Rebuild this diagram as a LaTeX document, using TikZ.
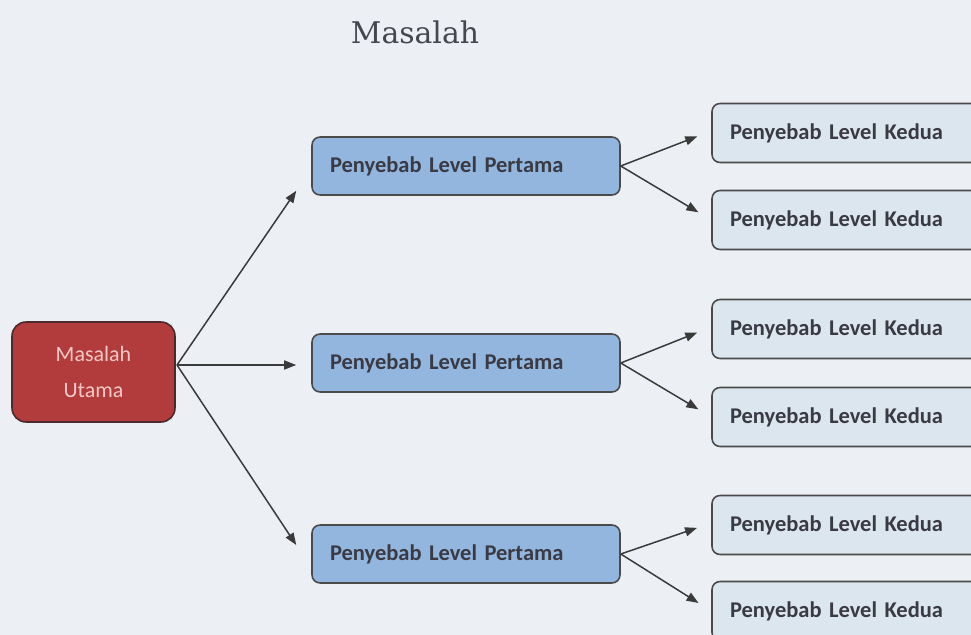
\documentclass[tikz,border=0pt]{standalone}
\usepackage{fontspec}
\setmainfont{Carlito}
\newfontfamily\titlefont{DejaVu Serif}
\usetikzlibrary{arrows.meta,calc}

\definecolor{pagebg}{HTML}{ECEFF4}
\definecolor{rootfill}{HTML}{B23B3B}
\definecolor{rootline}{HTML}{4A2A2A}
\definecolor{roottext}{HTML}{F5C8C8}
\definecolor{firstfill}{HTML}{92B6DE}
\definecolor{secondfill}{HTML}{DCE6EF}
\definecolor{boxline}{HTML}{4A4A4A}
\definecolor{boxtext}{HTML}{3A3A44}
\definecolor{arrowcol}{HTML}{3A3A3A}
\definecolor{titlecol}{HTML}{45474E}

\tikzset{
  rootbox/.style={draw=rootline, line width=0.9pt, fill=rootfill, rounded corners=0.28cm,
    minimum width=3.26cm, minimum height=2cm, align=center, text=roottext,
    font=\fontsize{12.5}{21}\selectfont},
  firstbox/.style={draw=boxline, line width=0.9pt, fill=firstfill, rounded corners=0.16cm,
    minimum width=6.16cm, minimum height=1.16cm, inner xsep=0.36cm,
    text width=5.44cm, align=left, text=boxtext, font=\fontsize{12.8}{14}\selectfont\bfseries},
  secondbox/.style={draw=boxline, line width=0.9pt, fill=secondfill, rounded corners=0.16cm,
    minimum width=6cm, minimum height=1.18cm, inner xsep=0.36cm,
    text width=5.28cm, align=left, text=boxtext, font=\fontsize{12.8}{14}\selectfont\bfseries},
  link/.style={draw=arrowcol, line width=0.85pt, -{Triangle[length=0.24cm,width=0.18cm]}},
}

\begin{document}
\begin{tikzpicture}[x=0.02cm, y=-0.02cm]
  % canvas
  \fill[pagebg] (0,0) rectangle (971,635);
  \useasboundingbox (0,0) rectangle (971,635);
  \clip (0,0) rectangle (971,635);

  % title
  \node[text=titlecol, font=\titlefont\fontsize{17}{20}\selectfont] (title) at (415,32) {Masalah};

  % root
  \node[rootbox] (root) at (93.5,372) {Masalah\\Utama};
  \coordinate (rootout) at (177,365);

  % first level causes
  \node[firstbox] (pa) at (466,166) {Penyebab Level Pertama};
  \node[firstbox] (pb) at (466,363) {Penyebab Level Pertama};
  \node[firstbox] (pc) at (466,554) {Penyebab Level Pertama};

  % second level causes
  \node[secondbox] (ka1) at (862,133) {Penyebab Level Kedua};
  \node[secondbox] (ka2) at (862,220) {Penyebab Level Kedua};
  \node[secondbox] (kb1) at (862,329) {Penyebab Level Kedua};
  \node[secondbox] (kb2) at (862,417) {Penyebab Level Kedua};
  \node[secondbox] (kc1) at (862,525) {Penyebab Level Kedua};
  \node[secondbox] (kc2) at (862,611) {Penyebab Level Kedua};

  % root to first level
  \draw[link] (rootout) -- ($(pa.south west)+(-15,-5)$);
  \draw[link] (rootout) -- ($(pb.west)+(-15,2)$);
  \draw[link] (rootout) -- ($(pc.west)+(-15,-9)$);

  % first level to second level
  \foreach \p/\u/\l in {pa/ka1/ka2, pb/kb1/kb2, pc/kc1/kc2}{
    \draw[link, shorten >=0.3cm] (\p.east) -- ($(\u.west)+(0,-2)$);
    \draw[link, shorten >=0.3cm] (\p.east) -- (\l.west);
  }
\end{tikzpicture}
\end{document}
